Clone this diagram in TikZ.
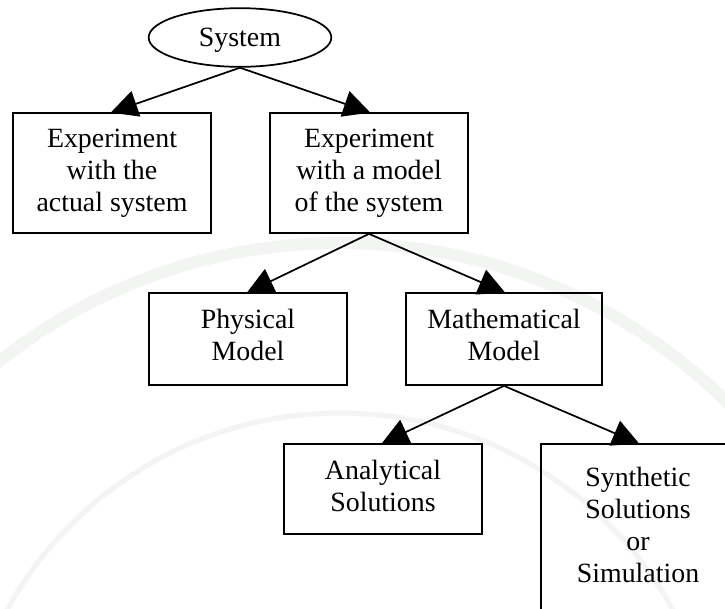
\documentclass[tikz,border=0pt]{standalone}
\usepackage{fontspec}
\setmainfont{Liberation Serif}
\usetikzlibrary{arrows.meta,shapes.geometric}
\definecolor{sealgray}{HTML}{F3F5F3}
\tikzset{
  modelbox/.style={draw,line width=1.3pt,minimum width=148.5pt,align=center,font=\fontsize{20.9}{24}\selectfont},
  sysnode/.style={ellipse,draw,line width=1.3pt,minimum width=137pt,minimum height=44pt,inner sep=0pt,text height=18.5pt,font=\fontsize{20.9}{24}\selectfont},
  tree/.style={line width=1.3pt,-{Triangle[length=20pt,width=20pt]},shorten >=-1pt}
}
\begin{document}
\begin{tikzpicture}[x=.75pt,y=-.75pt]
\clip (0,0) rectangle (725,608);
% Sello de fondo
\draw[sealgray,line width=9pt] (340,793) circle (550);
\draw[sealgray,line width=4pt] (340,793) circle (380);
% Nodos
\node[sysnode] (sys) at (240,37.5) {System};
\node[modelbox,minimum height=90pt] (real) at (112,173) {Experiment\\with the\\actual system};
\node[modelbox,minimum height=90pt] (exp) at (369,173) {Experiment\\with a model\\of the system};
\node[modelbox,minimum height=69pt,text depth=6pt] (phys) at (248,339) {Physical\\Model};
\node[modelbox,minimum height=69pt,text depth=6pt,minimum width=147pt] (math) at (504,339) {Mathematical\\Model};
\node[modelbox,minimum height=68pt,text depth=4.5pt] (anal) at (383,489) {Analytical\\Solutions};
\node[modelbox,minimum height=135pt,text depth=13.5pt,minimum width=145pt] (synt) at (638,534) {Synthetic\\Solutions\\or\\Simulation};
% Flechas
\draw[tree] (sys.south) -- (real.north);
\draw[tree] (sys.south) -- (exp.north);
\draw[tree] (exp.south) -- (phys.north);
\draw[tree] (exp.south) -- (math.north);
\draw[tree] (math.south) -- (anal.north);
\draw[tree] (math.south) -- (synt.north);
\end{tikzpicture}
\end{document}
